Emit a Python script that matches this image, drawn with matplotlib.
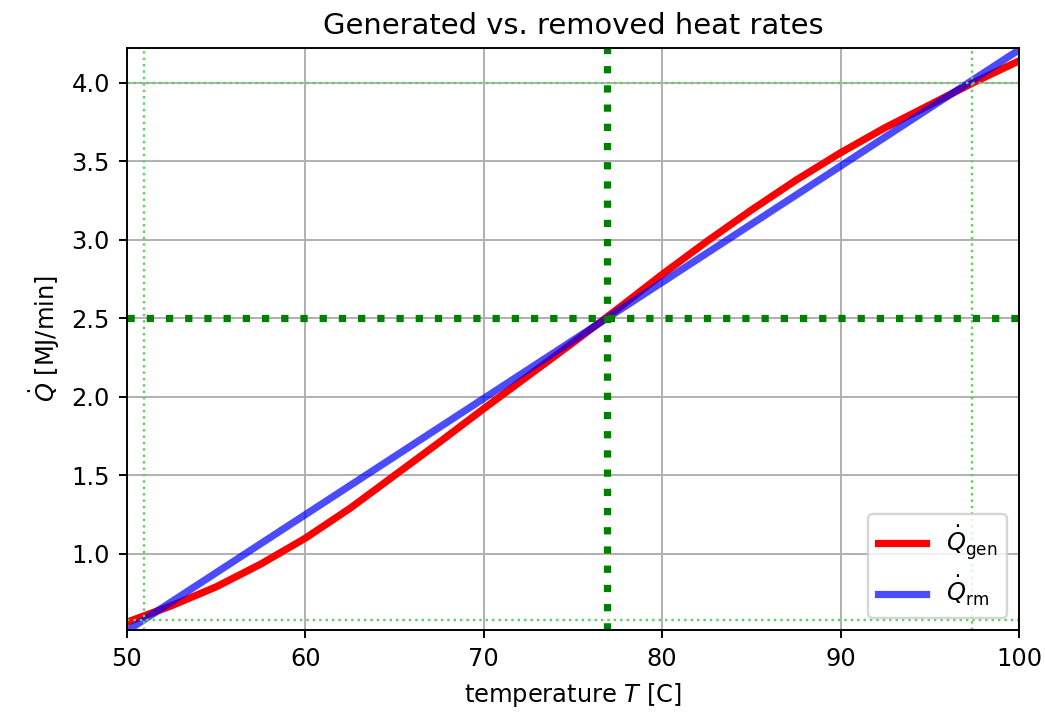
import numpy as np
import matplotlib.pyplot as plt

# Temperature grid [C] and heat rates [MJ/min]
T_gen = np.array([50, 52.5, 55, 57.5, 60, 62.5, 65, 67.5, 70, 72.5, 75, 77.5,
                  80, 82.5, 85, 87.5, 90, 92.5, 95, 97.5, 100])
Q_gen = np.array([0.565, 0.67, 0.79, 0.935, 1.10, 1.29, 1.50, 1.71, 1.925, 2.135, 2.345, 2.56,
                  2.78, 2.99, 3.19, 3.38, 3.555, 3.715, 3.86, 4.005, 4.14])

T_rm = np.array([50, 55, 60, 65, 70, 75, 80, 85, 90, 95, 100])
Q_rm = np.array([0.51, 0.88, 1.25, 1.62, 1.99, 2.36, 2.73, 3.10, 3.47, 3.84, 4.21])

# steady states (operating point + the two outer ones)
T_op, Q_op = 76.9, 2.5
T_ss = [50.95, 97.35]
Q_ss = [0.58, 4.0]

fig = plt.figure(figsize=(1045 / 174, 721 / 174), dpi=174)
ax = fig.add_axes([0.1215, 0.1262, 0.8536, 0.8072])

ax.plot(T_gen, Q_gen, color='red', lw=3, label=r'$\dot{Q}_{\rm gen}$')
ax.plot(T_rm, Q_rm, color='blue', alpha=0.7, lw=3, label=r'$\dot{Q}_{\rm rm}$')

for t in T_ss:
    ax.axvline(t, color='#66cc66', ls=':', lw=1)
for q in Q_ss:
    ax.axhline(q, color='#66cc66', ls=':', lw=1)
ax.axvline(T_op, color='g', ls=':', lw=3)
ax.axhline(Q_op, color='g', ls=':', lw=3)

ax.set_xlim(50, 100)
ax.set_ylim(0.515, 4.222)
ax.set_yticks(np.arange(1.0, 4.01, 0.5))
ax.set_xlabel('temperature $T$ [C]')
ax.set_ylabel(r'$\dot{Q}$ [MJ/min]')
ax.set_title('Generated vs. removed heat rates', fontsize=12)
ax.grid(True)
ax.legend(loc='lower right')

fig.savefig('out.png', dpi=174)
